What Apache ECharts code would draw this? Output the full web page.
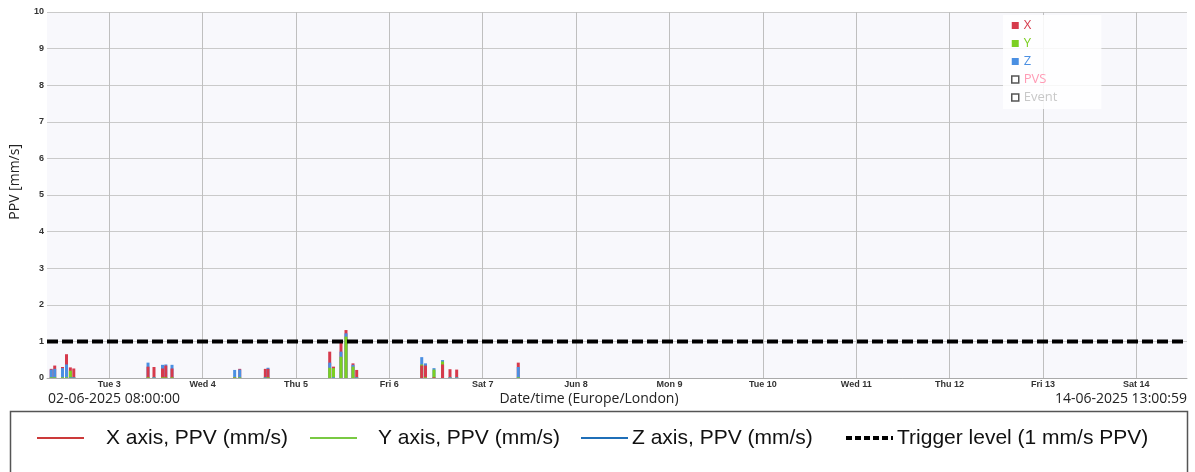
<!DOCTYPE html>
<html><head><meta charset="utf-8">
<script src="https://cdn.jsdelivr.net/npm/echarts@6/dist/echarts.min.js"></script>
<style>html,body{margin:0;padding:0;background:#fff}#c{width:1195px;height:472px}</style>
</head><body><div id="c"></div>
<script>
// ---- data ----
const eventTimes = [
  '2025-06-02 09:05','2025-06-02 09:59','2025-06-02 11:59','2025-06-02 13:01','2025-06-02 14:00','2025-06-02 14:53',
  '2025-06-03 09:58','2025-06-03 11:30','2025-06-03 13:41','2025-06-03 14:32','2025-06-03 16:08',
  '2025-06-04 08:14','2025-06-04 09:32','2025-06-04 16:07','2025-06-04 16:48',
  '2025-06-05 08:40','2025-06-05 09:38','2025-06-05 11:34','2025-06-05 12:51','2025-06-05 14:39','2025-06-05 15:36',
  '2025-06-06 08:19','2025-06-06 09:17','2025-06-06 11:28','2025-06-06 13:40','2025-06-06 15:35','2025-06-06 17:18',
  '2025-06-07 09:08'
];
const ppvX = [0.25,0.34,0.30,0.65,0.29,0.26, 0.31,0.30,0.26,0.34,0.26, 0.02,0.25,0.25,0.25, 0.72,0.31,1.01,1.31,0.40,0.22, 0.34,0.34,0.02,0.37,0.24,0.23, 0.42];
const ppvY = [0.02,0.02,0.02,0.02,0.20,0.02, 0.02,0.02,0.02,0.02,0.02, 0.02,0.02,0.02,0.02, 0.28,0.27,0.58,1.13,0.31,0.02, 0.37,0.02,0.23,0.45,0.02,0.02, 0.02];
const ppvZ = [0.23,0.25,0.27,0.37,0.02,0.02, 0.42,0.02,0.36,0.37,0.36, 0.22,0.23,0.02,0.28, 0.42,0.02,0.72,1.22,0.36,0.02, 0.57,0.40,0.27,0.49,0.02,0.02, 0.30];
const dayLabels = ['Tue 3','Wed 4','Thu 5','Fri 6','Sat 7','Jun 8','Mon 9','Tue 10','Wed 11','Thu 12','Fri 13','Sat 14'];
const triggerLevel = 1;
const startTime = '2025-06-02 08:00:00';
const endTime = '2025-06-14 13:00:59';
const startLabel = '02-06-2025 08:00:00';
const endLabel = '14-06-2025 13:00:59';
const legendTop = ['X','Y','Z','PVS','Event'];
const legendBottom = ['X axis, PPV (mm/s)','Y axis, PPV (mm/s)','Z axis, PPV (mm/s)','Trigger level (1 mm/s PPV)'];

// ---- helpers ----
const COL = {x:'#d63a4c', y:'#7ccf22', z:'#4a8fe2'};
function hours(s){
  const m = s.match(/(\d+)-(\d+)-(\d+) (\d+):(\d+)(?::(\d+))?/);
  const t = Date.UTC(+m[1], +m[2]-1, +m[3], +m[4], +m[5], +(m[6]||0));
  return (t - Date.UTC(2025,5,2))/3600000;
}
const xMin = hours(startTime), xMax = hours(endTime);
const dayTicks = dayLabels.map((_, i) => (i+1)*24);

// overlapped columns: tallest at back, smallest at front
const layers = [[],[],[]];
eventTimes.forEach((t, i) => {
  const h = hours(t);
  const vals = [{v:ppvX[i], c:COL.x},{v:ppvY[i], c:COL.y},{v:ppvZ[i], c:COL.z}].sort((a,b)=>b.v-a.v);
  vals.forEach((o, k) => layers[k].push({value:[h, o.v], itemStyle:{color:o.c}}));
});

const chart = echarts.init(document.getElementById('c'), null, {renderer:'canvas'});
const lblFont = {fontSize:9, fontWeight:'bold', color:'#333', fontFamily:'Liberation Sans, Arial, sans-serif'};

const series = layers.map((d, k) => ({
  name:'layer'+k, type:'bar', data:d, barWidth:3, barGap:'-100%', z:2+k,
  itemStyle:{borderWidth:0}, silent:true, animation:false
}));
series.push({
  name:'Trigger', type:'line', data:[[xMin, triggerLevel],[xMax, triggerLevel]],
  symbol:'none', z:10, lineStyle:{color:'#000', width:4, type:[11,4]}, animation:false, silent:true
});
const topCols = [COL.x, COL.y, COL.z, '#ff9bb5', '#c8c8c8'];
legendTop.forEach(n => series.push({name:n, type:'line', data:[]}));

const bottomCols = ['#cc3a3a','#79c943','#1f6fb8','#000'];
const bx = [37, 310, 581, 846], tx = [106, 378, 632, 897];
const graphics = [
  {type:'text', left:8, top:144, rotation:Math.PI/2, style:{text:'PPV [mm/s]', font:'14px "Open Sans", sans-serif', fill:'#222'}},
  {type:'text', x:48, y:399, style:{text:startLabel, font:'14px "Open Sans", sans-serif', fill:'#222', textVerticalAlign:'middle'}},
  {type:'text', x:1187, y:399, style:{text:endLabel, font:'14px "Open Sans", sans-serif', fill:'#222', textAlign:'right', textVerticalAlign:'middle'}},
  {type:'text', x:589, y:399, style:{text:'Date/time (Europe/London)', font:'14px "Open Sans", sans-serif', fill:'#222', textAlign:'center', textVerticalAlign:'middle'}},
  {type:'rect', shape:{x:10.5, y:411.5, width:1177, height:80}, style:{fill:'#fff', stroke:'#555', lineWidth:1.5}}
];
legendBottom.forEach((t, i) => {
  graphics.push({type:'line', shape:{x1:bx[i], y1:438, x2:bx[i]+47, y2:438},
    style:{stroke:bottomCols[i], lineWidth: i===3 ? 4 : 2, lineDash: i===3 ? [6,3] : null}});
  graphics.push({type:'text', x:tx[i], y:438, style:{text:t, font:'21px "Liberation Sans", Arial, sans-serif', fill:'#111', textVerticalAlign:'middle'}});
});

chart.setOption({
  animation:false,
  backgroundColor:'#fff',
  grid:{left:47, right:8, top:12, bottom:94, show:true, backgroundColor:'#f8f8fc', borderWidth:0},
  xAxis:{
    type:'value', min:xMin, max:xMax,
    axisLine:{show:true, lineStyle:{color:'#aaa', width:1}},
    axisTick:{show:false, customValues:dayTicks},
    axisLabel:Object.assign({customValues:dayTicks, margin:2, formatter:v => dayLabels[Math.round(v/24)-1] || ''}, lblFont),
    splitLine:{show:true, lineStyle:{color:'#bfbfbf', width:1}}
  },
  yAxis:{
    type:'value', min:0, max:10, interval:1,
    axisLine:{show:false}, axisTick:{show:false},
    axisLabel:Object.assign({margin:3}, lblFont),
    splitLine:{show:true, lineStyle:{color:'#cacaca', width:1}}
  },
  legend:{
    orient:'vertical', left:1003, top:15, itemWidth:7, itemHeight:7, itemGap:5,
    padding:[4,44,5,8], backgroundColor:'rgba(255,255,255,0.85)', selectedMode:false,
    textStyle:{fontSize:13, lineHeight:13, fontFamily:'"Open Sans", sans-serif'},
    data: legendTop.map((n, i) => ({
      name:n, icon:'rect',
      itemStyle: i < 3 ? {color:topCols[i], borderWidth:0} : {color:'#fff', borderColor:'#555', borderWidth:1.5},
      textStyle:{color:topCols[i]}
    }))
  },
  graphic:graphics,
  series:series
});
</script></body></html>
